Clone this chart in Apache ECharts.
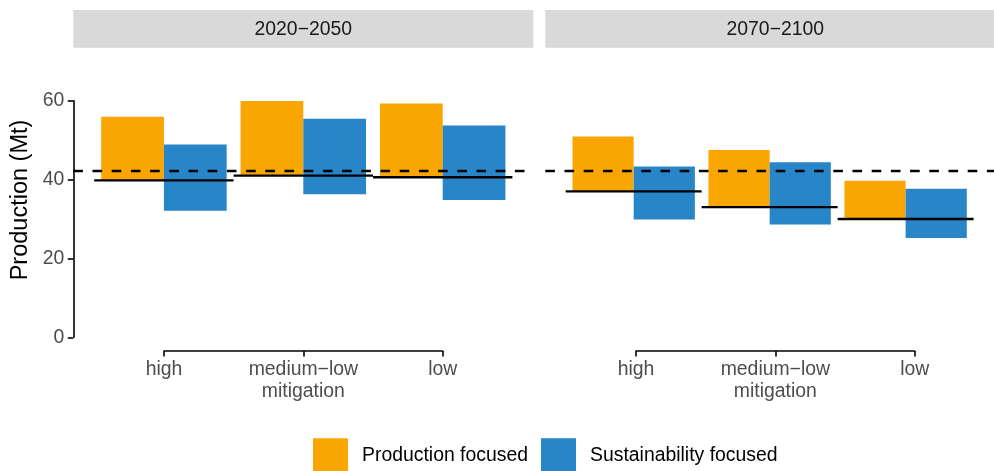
<!DOCTYPE html>
<html>
<head>
<meta charset="utf-8">
<title>Production by mitigation scenario</title>
<script src="https://cdn.jsdelivr.net/npm/echarts@6/dist/echarts.min.js"></script>
<style>
  html, body { margin: 0; padding: 0; background: #fff; }
  #chart { width: 994px; height: 471px; }
</style>
</head>
<body>
<div id="chart"></div>
<script>
// Scenario categories and period facets
const categories = ['high', 'medium\u2212low\nmitigation', 'low'];
const periods = ['2020\u22122050', '2070\u22122100'];

// Reference production level (dashed line), Mt
const referenceLevel = 42.2;

// Baseline production per scenario (solid segments), Mt
const baseline2020 = [39.8, 41.0, 40.6];
const baseline2070 = [37.0, 33.0, 30.0];

// Production focused range (low / high), Mt
const prodLow2020 = [39.8, 41.0, 40.6];
const prodHigh2020 = [55.9, 59.9, 59.3];
const prodLow2070 = [37.0, 33.0, 30.0];
const prodHigh2070 = [50.9, 47.5, 39.7];

// Sustainability focused range (low / high), Mt
const sustLow2020 = [32.1, 36.3, 34.8];
const sustHigh2020 = [48.9, 55.4, 53.7];
const sustLow2070 = [29.9, 28.6, 25.2];
const sustHigh2070 = [43.3, 44.4, 37.7];

// Y axis ticks
const yTicks = [0, 20, 40, 60];

const COLOR_PROD = '#F9A602';
const COLOR_SUST = '#2785C8';
const FONT = 'Liberation Sans, Arial, Helvetica, sans-serif';

const chart = echarts.init(document.getElementById('chart'), null, { renderer: 'canvas' });

function rangeData(lows, highs) {
  return lows.map((lo, i) => [i, lo, highs[i]]);
}
function lineData(vals) {
  return vals.map((v, i) => [i, v]);
}

// Floating bar: side -1 draws left of the category centre, +1 right of it
function makeRangeRender(side) {
  return function (params, api) {
    const x = api.value(0);
    const lo = api.value(1);
    const hi = api.value(2);
    const band = api.size([1, 0])[0];
    const w = band * 0.45;
    const top = api.coord([x, hi]);
    const bot = api.coord([x, lo]);
    const x0 = side < 0 ? top[0] - w : top[0];
    return {
      type: 'rect',
      shape: { x: x0, y: top[1], width: w, height: bot[1] - top[1] },
      style: api.style()
    };
  };
}

// Baseline segment spanning the full category band
function renderBaseline(params, api) {
  const x = api.value(0);
  const v = api.value(1);
  const band = api.size([1, 0])[0];
  const c = api.coord([x, v]);
  return {
    type: 'line',
    shape: { x1: c[0] - band / 2, y1: c[1], x2: c[0] + band / 2, y2: c[1] },
    style: { stroke: '#000', lineWidth: 2.4 }
  };
}

const panelTop = 100.7;
const panelHeight = 236.6;
const panelWidth = 460;
const panelLeft = [73.3, 545.3];
const axisBottom = 471 - 351;

const grids = [
  { left: panelLeft[0], top: panelTop, width: panelWidth, height: panelHeight },
  { left: panelLeft[1], top: panelTop, width: panelWidth, height: panelHeight },
  { left: 164, top: panelTop, width: 278.7, bottom: axisBottom },
  { left: 636, top: panelTop, width: 278.7, bottom: axisBottom }
];

const dataX = (gi) => ({
  gridIndex: gi, type: 'value', min: -0.65, max: 2.65, show: false
});
const catX = (gi) => ({
  gridIndex: gi,
  type: 'category',
  data: categories,
  boundaryGap: false,
  axisLine: { show: true, onZero: false, lineStyle: { color: '#000', width: 1.6 } },
  axisTick: { show: true, length: 5.5, lineStyle: { color: '#000', width: 1.6 } },
  axisLabel: {
    color: '#4d4d4d', fontSize: 19.4, fontFamily: FONT,
    margin: 8, lineHeight: 22, interval: 0
  },
  splitLine: { show: false }
});

const yAxes = [
  {
    gridIndex: 0, type: 'value', min: yTicks[0], max: yTicks[yTicks.length - 1], interval: 20,
    axisLine: { show: true, onZero: false, lineStyle: { color: '#000', width: 1.6 } },
    axisTick: { show: true, length: 5.5, lineStyle: { color: '#000', width: 1.6 } },
    axisLabel: { color: '#4d4d4d', fontSize: 19.4, fontFamily: FONT, margin: 9 },
    splitLine: { show: false }
  },
  { gridIndex: 1, type: 'value', min: yTicks[0], max: yTicks[yTicks.length - 1], show: false },
  { gridIndex: 2, type: 'value', min: 0, max: 1, show: false },
  { gridIndex: 3, type: 'value', min: 0, max: 1, show: false }
];

function panelSeries(gi, pLo, pHi, sLo, sHi, base) {
  return [
    {
      name: 'Production focused', type: 'custom',
      xAxisIndex: gi, yAxisIndex: gi,
      renderItem: makeRangeRender(-1),
      itemStyle: { color: COLOR_PROD },
      encode: { x: 0, y: [1, 2] },
      data: rangeData(pLo, pHi), silent: true, z: 2
    },
    {
      name: 'Sustainability focused', type: 'custom',
      xAxisIndex: gi, yAxisIndex: gi,
      renderItem: makeRangeRender(1),
      itemStyle: { color: COLOR_SUST },
      encode: { x: 0, y: [1, 2] },
      data: rangeData(sLo, sHi), silent: true, z: 2
    },
    {
      name: 'Baseline', type: 'custom',
      xAxisIndex: gi, yAxisIndex: gi,
      renderItem: renderBaseline,
      encode: { x: 0, y: 1 },
      data: lineData(base), silent: true, z: 3,
      markLine: {
        silent: true, symbol: 'none', animation: false,
        label: { show: false },
        lineStyle: { color: '#000', width: 2.4, type: [9.6, 9.6] },
        data: [{ yAxis: referenceLevel }]
      }
    }
  ];
}

const stripHeight = 37.7;

const option = {
  backgroundColor: '#fff',
  animation: false,
  textStyle: { fontFamily: FONT },
  grid: grids,
  xAxis: [dataX(0), dataX(1), catX(2), catX(3)],
  yAxis: yAxes,
  legend: {
    data: ['Production focused', 'Sustainability focused'],
    left: 313, top: 438.3, padding: 0,
    icon: 'rect', itemWidth: 35, itemHeight: 35, itemGap: 13,
    selectedMode: false,
    textStyle: { fontSize: 19.4, color: '#000', fontFamily: FONT, padding: [0, 0, 0, 9] }
  },
  graphic: [
    { type: 'rect', shape: { x: panelLeft[0], y: 10, width: panelWidth, height: stripHeight },
      style: { fill: '#d9d9d9' }, silent: true },
    { type: 'rect', shape: { x: panelLeft[1], y: 10, width: panelWidth, height: stripHeight },
      style: { fill: '#d9d9d9' }, silent: true },
    { type: 'text', x: panelLeft[0] + panelWidth / 2, y: 10 + stripHeight / 2 + 0.5,
      style: { text: periods[0], fill: '#1a1a1a', font: '19.4px ' + FONT,
               textAlign: 'center', textVerticalAlign: 'middle' }, silent: true },
    { type: 'text', x: panelLeft[1] + panelWidth / 2, y: 10 + stripHeight / 2 + 0.5,
      style: { text: periods[1], fill: '#1a1a1a', font: '19.4px ' + FONT,
               textAlign: 'center', textVerticalAlign: 'middle' }, silent: true },
    { type: 'text', x: 21, y: 200, rotation: Math.PI / 2,
      style: { text: 'Production (Mt)', fill: '#000', font: '23.5px ' + FONT,
               textAlign: 'center', textVerticalAlign: 'middle' }, silent: true }
  ],
  series: [
    ...panelSeries(0, prodLow2020, prodHigh2020, sustLow2020, sustHigh2020, baseline2020),
    ...panelSeries(1, prodLow2070, prodHigh2070, sustLow2070, sustHigh2070, baseline2070)
  ]
};

chart.setOption(option);
</script>
</body>
</html>
